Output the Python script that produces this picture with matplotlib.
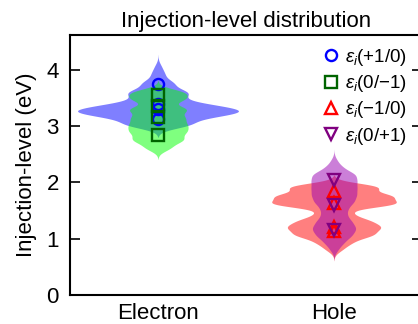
import numpy as np
import matplotlib
matplotlib.use('Agg')
import matplotlib.pyplot as plt

plt.rcParams['font.family'] = ['Liberation Sans', 'DejaVu Sans']
plt.rcParams['mathtext.fontset'] = 'custom'
plt.rcParams['mathtext.rm'] = 'Liberation Sans'
plt.rcParams['mathtext.it'] = 'Liberation Sans:italic'

# ---------------- data ----------------
categories = ['Electron', 'Hole']
title = 'Injection-level distribution'
ylabel = 'Injection-level (eV)'
yticks = [0, 1, 2, 3, 4]

# distribution samples (level in eV, count) for each violin
e_p10_levels = [3.03, 3.17, 3.27, 3.37, 3.48, 3.60, 3.76, 3.92, 4.05]
e_p10_counts = [10, 12, 20, 12, 5, 9, 5, 2, 1]
e_0m1_levels = [2.62, 2.76, 2.90, 3.02, 3.15, 3.30, 3.48, 3.60]
e_0m1_counts = [5, 10, 10, 10, 10, 12, 10, 10]
h_m10_levels = [0.82, 0.94, 1.07, 1.20, 1.32, 1.45, 1.62, 1.76, 1.92]
h_m10_counts = [3, 6, 14, 16, 12, 6, 24, 22, 18]
h_0p1_levels = [0.82, 0.94, 1.06, 1.18, 1.30, 1.42, 1.54, 1.66, 1.78, 1.90, 2.02, 2.14, 2.26, 2.38]
h_0p1_counts = [4, 9, 16, 20, 16, 11, 12, 18, 20, 20, 20, 20, 8, 3]

# individual injection levels (markers)
eps_p10 = [3.75, 3.40, 3.30, 3.12]   # electron
eps_0m1 = [3.56, 3.36, 3.16, 2.84]   # electron
eps_m10 = [1.84, 1.64, 1.21, 1.13]   # hole
eps_0p1 = [2.04, 1.60, 1.15]         # hole

labels = [r'$\mathit{ε}_\mathit{i}$(+1/0)', r'$\mathit{ε}_\mathit{i}$(0/−1)',
          r'$\mathit{ε}_\mathit{i}$(−1/0)', r'$\mathit{ε}_\mathit{i}$(0/+1)']


def kde_profile(levels, counts, bw, cut=3.0, n=400):
    lv = np.asarray(levels, float)
    w = np.asarray(counts, float)
    y = np.linspace(lv.min() - cut * bw, lv.max() + cut * bw, n)
    d = (w[None, :] * np.exp(-0.5 * ((y[:, None] - lv[None, :]) / bw) ** 2)).sum(1)
    return y, d / d.max()


fig = plt.figure(figsize=(4.18, 3.24), dpi=100)
ax = fig.add_axes([70 / 418, 29 / 324, 352 / 418, 260 / 324])

pos = {'Electron': 1, 'Hole': 2}

violins = [
    (pos['Electron'], e_p10_levels, e_p10_counts, 0.457, 0.075, (0, 0, 1)),
    (pos['Electron'], e_0m1_levels, e_0m1_counts, 0.171, 0.07, (0, 1, 0)),
    (pos['Hole'], h_m10_levels, h_m10_counts, 0.354, 0.07, (1, 0, 0)),
    (pos['Hole'], h_0p1_levels, h_0p1_counts, 0.131, 0.07, (0.6, 0.0, 0.7)),
]
for x0, lv, ct, half, bw, col in violins:
    y, d = kde_profile(lv, ct, bw)
    ax.fill_betweenx(y, x0 - half * d, x0 + half * d, color=col, alpha=0.5, lw=0)

ms = 8
mew = 1.7
ax.plot([pos['Electron']] * len(eps_p10), eps_p10, 'o', ms=ms, mfc='none',
        mec='#0000ff', mew=mew, label=labels[0])
ax.plot([pos['Electron']] * len(eps_0m1), eps_0m1, 's', ms=ms, mfc='none',
        mec='#006400', mew=mew, label=labels[1])
ax.plot([pos['Hole']] * len(eps_m10), eps_m10, '^', ms=ms, mfc='none',
        mec='#ff0000', mew=mew, label=labels[2])
ax.plot([pos['Hole']] * len(eps_0p1), eps_0p1, 'v', ms=ms, mfc='none',
        mec='#800080', mew=mew, label=labels[3])

ax.set_xlim(0.5, 2.5)
ax.set_ylim(0, 4.62)
ax.set_xticks([pos[c] for c in categories])
ax.set_xticklabels(categories)
ax.set_yticks(yticks)
ax.tick_params(axis='y', direction='in', length=7, width=1.2, right=True,
               labelsize=16, pad=8)
ax.tick_params(axis='x', length=0, labelsize=16, pad=6)
for s in ax.spines.values():
    s.set_linewidth(1.5)
ax.set_title(title, fontsize=16, pad=6)
ax.set_ylabel(ylabel, fontsize=16, labelpad=7)

ax.legend(loc='upper right', bbox_to_anchor=(0.995, 1.005), frameon=False,
          fontsize=13.5, handletextpad=0.15, labelspacing=0.28,
          borderaxespad=0.3, handlelength=1.2)

fig.savefig('out.png', dpi=100)
